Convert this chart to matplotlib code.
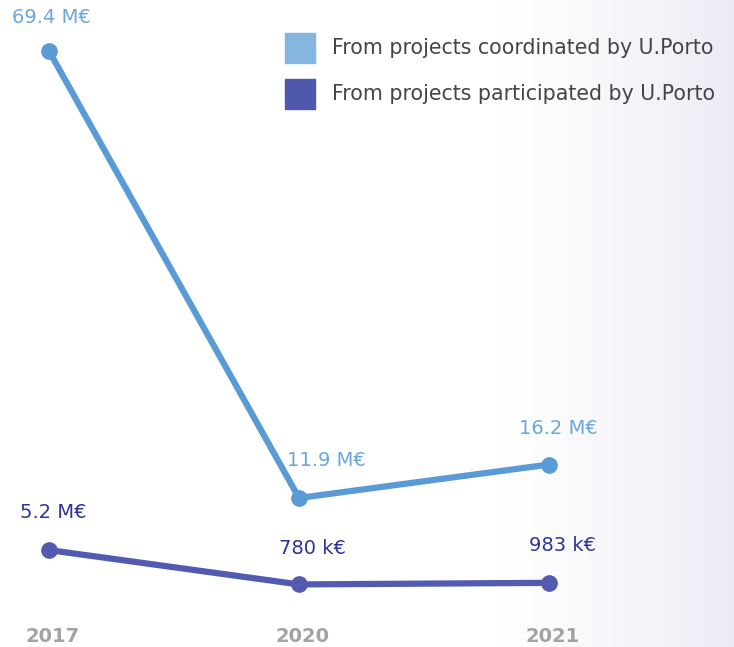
import matplotlib.pyplot as plt
import numpy as np
from matplotlib.patches import Rectangle

years = ['2017', '2020', '2021']
coordinated = [69.4, 11.9, 16.2]
participated = [5.2, 0.78, 0.983]
coord_labels = ['69.4 M€', '11.9 M€', '16.2 M€']
part_labels = ['5.2 M€', '780 k€', '983 k€']
series_names = ['From projects coordinated by U.Porto',
                'From projects participated by U.Porto']

plt.rcParams['font.family'] = ['DejaVu Sans']

fig = plt.figure(figsize=(7.34, 6.47), dpi=100)

# soft grey-lavender fade on the right side
bg = fig.add_axes([0, 0, 1, 1], zorder=0)
grad = np.clip((np.linspace(0, 1, 400) - 0.68) / 0.32, 0, 1) ** 1.2
col0 = np.array([1.0, 1.0, 1.0])
col1 = np.array([0.925, 0.925, 0.960])
img = col0[None, None, :] + (col1 - col0)[None, None, :] * grad[None, :, None]
bg.imshow(np.repeat(img, 2, axis=0), aspect='auto', extent=[0, 1, 0, 1])
bg.axis('off')

ax = fig.add_axes([0, 0, 1, 1], zorder=1)
ax.patch.set_alpha(0)
x = np.arange(len(years))

c_line, c_text = '#5a9bd5', '#6ba6dc'
p_line, p_text = '#525bb0', '#2e3592'

ax.plot(x, coordinated, color=c_line, lw=4.5, marker='o', ms=11,
        solid_capstyle='round')
ax.plot(x, participated, color=p_line, lw=4.5, marker='o', ms=11,
        solid_capstyle='round')

c_off = [(2, 24), (20, 27), (7, 26)]
for xi, v, s, o in zip(x, coordinated, coord_labels, c_off):
    ax.annotate(s, (xi, v), xytext=o, textcoords='offset points',
                ha='center', va='center', color=c_text, fontsize=14)

p_off = [(3, 27), (10, 26), (10, 27)]
for xi, v, s, o in zip(x, participated, part_labels, p_off):
    ax.annotate(s, (xi, v), xytext=o, textcoords='offset points',
                ha='center', va='center', color=p_text, fontsize=14)

for xi, y in zip(x, years):
    ax.text(xi + 0.015, -5.95, y, ha='center', va='center',
            color='#a3a3a3', fontsize=14, fontweight='bold')

ax.set_xlim(-0.196, 2.74)
ax.set_ylim(-7.27, 75.96)
ax.axis('off')

# legend drawn in figure pixels
for i, (name, sq) in enumerate(zip(series_names, ['#85b6e0', '#5058ae'])):
    top = 33 + i * 46
    fig.patches.append(Rectangle((285 / 734, 1 - (top + 30) / 647),
                                 30 / 734, 30 / 647, color=sq,
                                 transform=fig.transFigure))
    fig.text(332 / 734, 1 - (top + 15) / 647, name, ha='left', va='center',
             color='#454545', fontsize=14.8)

fig.savefig('out.png', dpi=100)
